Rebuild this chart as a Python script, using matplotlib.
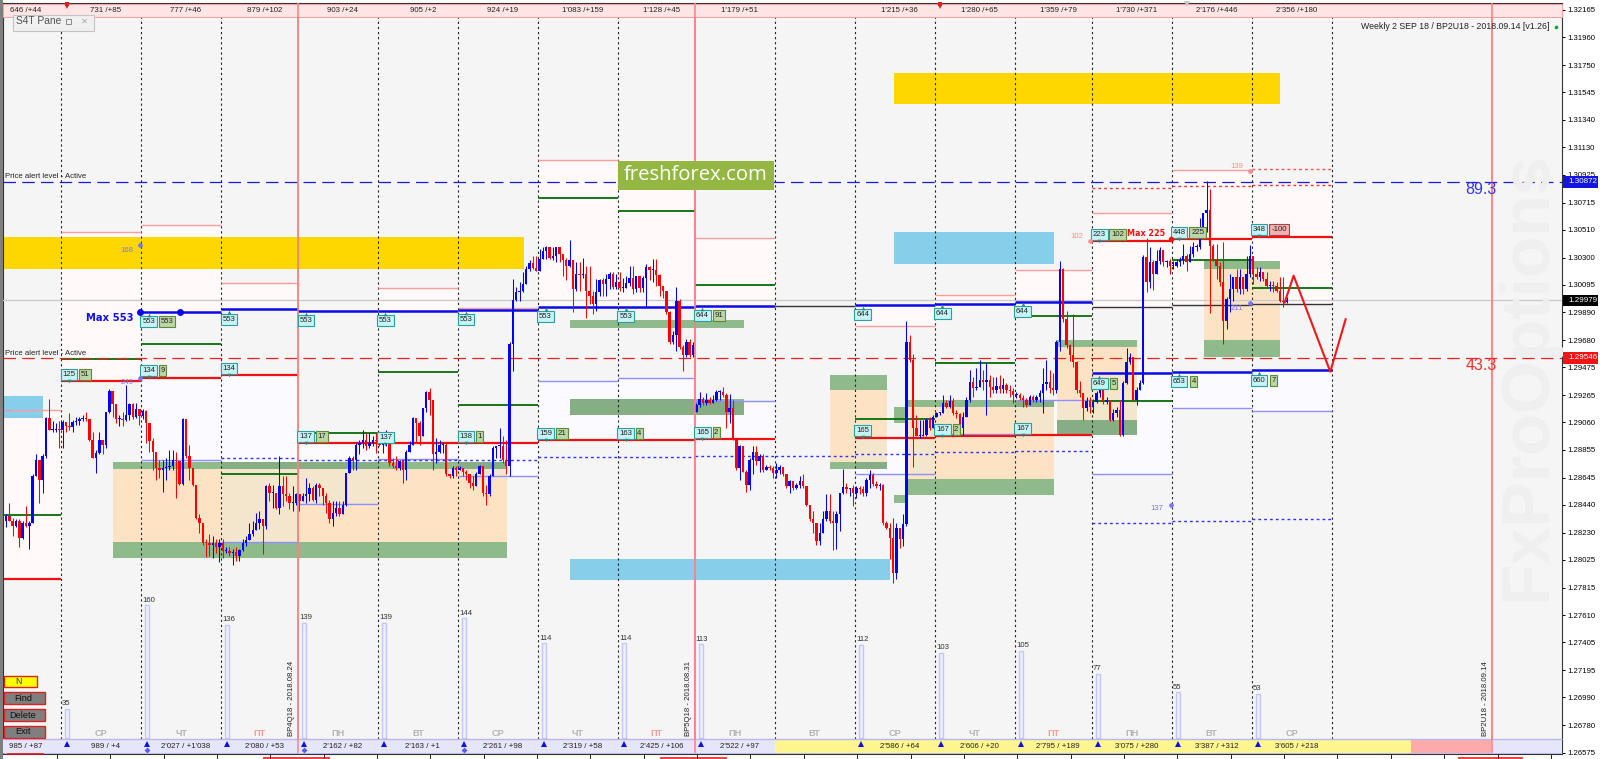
import matplotlib
matplotlib.use("Agg")
import matplotlib.pyplot as plt
from matplotlib.patches import Rectangle
import numpy as np

W, H = 1600, 759
FONT = "Liberation Sans"
plt.rcParams['font.family'] = [FONT, 'DejaVu Sans']

# ---------- candle data: pips above 1.2800, per trading day ----------
BASE = 1.28
c00=[35.5,32,28,32,19,30.5,28,30.5,65.5,78,63,80.5,109,100.5,100.5,101,100.5]
h00=[37,45.5,34,33,33,32,43,32,67,82,73,82,110.5,124,107,105.5,107]
l00=[27,32,20.5,27,12,18,27,10.5,30.5,65.5,45.5,53,79,100.5,99,99,87]
c01=[106,103,102.5,106,107,108.5,109,108.5,93,79,83,92.5,89,114,130,120,108.5,108.5,108,112,120,110,116,111]
h01=[108,105.5,113,108,110.5,110.5,112,114,107,99,85.5,99,93,114,131,128,119,112,114,134,121,120.5,120.5,116]
l01=[87,99,100.5,99,104,104,107,107,92,79,68,82,82,87,113,110.5,105.5,103,103,107,108,108.5,109,104]
c02=[115,105.5,92,84,72,70.5,72,72.5,73.5,78,77,60,108.5,80.5,72,59,34,30,15.5,15,13.5,15.5,12,15]
h02=[116,115.5,105.5,94,84,78,78,79,85,85,84,77,109,108.5,89,72,59,37,22,18,22,20.5,18,18]
l02=[108.5,90.5,84,70.5,63,64,54,63,70.5,70.5,49,59,59,79,63,58,33,23,14,5,5.5,4,8,1]
c03=[9,9,8,8.5,5.5,10,15.5,17.5,22,25,30,33,28,58,53,53,42,58,52,50.5,45.5,45.5,52]
h03=[18,12,12,10.5,12,10.5,18,20.5,30.5,32,38,39,33,59,60.5,59,53,80.5,65.5,65.5,53,58,53]
l03=[4,8,5.5,-1.5,2,2,9,13,20.5,20.5,28,25.5,7,25.5,47,42,40.5,37,43,47,40.5,39,44]
c04=[47,50.5,52,57,48,59,57,50.5,45.5,33,38,42,37,44,68,79,78,89,90.5,93,88,90.5,93,92]
h04=[48,53,64,60.5,58,60.5,60.5,57,53,48,47,47,47,47,68,80.5,80.5,90.5,93,100.5,98,98,95.5,98]
l04=[39,47,45.5,47,47,45.5,50.5,44,38,30.5,28,35.5,35.5,37,43,70.5,70.5,70.5,82,87,85.5,87,88,83]
c05=[89,89,90.5,75.5,73,72,77,70.5,84,89,109,105.5,95.5,117,129,123,82,84,89,89,67,65.5,72,70.5]
h05=[98,95.5,100.5,92,79,80.5,78,77,85,92,110.5,107,107,117,130,132,123,94,93,90.5,90.5,67,73,73]
l05=[88,83,88,73,72,70.5,70.5,60.5,63,84,89,90.5,89,95.5,114,112,70.5,75.5,83,83,65.5,64,64,65.5]
c06=[72,69,67,60.5,58,67,73,53,52,65.5,87,88,88,78,73,165,198,204,205,210,221.5,226,222,220]
h06=[73,72,70.5,67,65.5,69,74,73,59,67,88,88,102,95.5,93,166.5,214,208,211.5,219,224,228,231.5,231.5]
l06=[70.5,65.5,63,57,55.5,62,67,50.5,44,50.5,65.5,79,79,75.5,67,65.5,145,197.5,197.5,204,210,220,221.5,221.5]
c07=[229,235,238,230,231.5,238,233,228,224,228,206.5,218,217,218,205,201.5,195,204,213,210,214,218,208,211.5]
h07=[236.5,238,238.5,238,238,238,238,231.5,230,243,228,226.5,226.5,230,224,224,205,214,214,215,218,219,219,218]
l07=[224,229,229,229,228,226.5,226.5,216.5,213,223,189,205,205,215,185,195,188,190,201.5,201.5,201.5,206.5,206.5,206.5]
c08=[207.5,207.5,211,214.5,206.5,216,207,214.5,223,221,221,217,209,205,189,166.5,171.5,197.5,162.5,156.5,166.5,156.5,164]
h08=[219,215,216.5,224,224,216.5,214.5,216.5,225,224,229,229,218,209,205,190,175,208,199,164,169,169,166.5]
l08=[205,204,207.5,209,203,204,204,204,193,213,211.5,209,201.5,200,188,165,165,160,161.5,144.5,155,155,155]
c09=[119,124,121,123,121,123,129,129,127,114,117,94,72,88,69,59,78,84,77,81,70.5,72.5,72,68]
h09=[120.5,129,125.5,128,125.5,127,130.5,130.5,133,128,127.5,123,94,89,88,70.5,79,88.5,88,82,82,74,74,73]
l09=[114,118,119,119,120,120.5,122.5,123,125.5,102,105.5,93,70.5,63,69,54,55.5,67,74,69,69,70.5,70.5,64]
c10=[70.5,72.5,67,58,62,57,59,62,58,44,33,30.5,17,23,33,39,32,30.5,37,53,57.5,56,57,53]
h10=[75.5,74,72.5,67,63,62,60.5,65.5,67.5,58,44,39,30.5,30.5,39,52,52,39,39,53,71,60.5,57,59]
l10=[64,67,65.5,57,53,55.5,56,57,57,43,32,23,14,14,23,32,30.5,10,10.5,24,52,53,50.5,43.5]
c11=[56.75,56,53,63,66.75,60,58.5,59,30.5,26.75,19.25,-7,26.75,18.5,29.25,166.5,152.75,101.75,95.5,95.5,96.75,108,101.75,110]
h11=[58,58,58,64,70,68,62,60.5,60,31.75,30.5,34,30.5,25.5,36.75,182.75,171.5,157.75,111.75,108,108,109,110.5,111.75]
l11=[49,52,50.5,50.5,56.75,58,56.75,55.5,29,25.5,3,-15,-12,11.75,13,28,151.5,72.5,95.5,94,95.5,96,100.5,101.75]
c12=[113,113,121,118,122.5,113,112.5,101.75,110,123,136.75,131.75,133,138,136.75,138,133,130.5,133.5,131,134.25,130.5,130,126.75]
h12=[114,114,126.75,123,126.75,124.25,115.5,113,114.25,125.5,145.5,140.5,146.75,153,145.5,150.5,141.75,140.5,140.5,141.75,139.25,135.5,134.25,131.75]
l12=[113,111.75,113,116.75,116.75,111.75,109.25,100.5,96.75,110.5,121.75,125.5,130.5,133,130.5,111.75,125.5,128,128,128,128,128,125.5,120.5]
c13=[126.75,124.25,123,119.25,125,123,125,128.5,135,136.75,131.75,130.5,166.5,221.5,184,164,156.5,151.5,130.5,128,116.75,122.5,118]
h13=[129.25,128,126.75,124.25,126.75,126.75,126.75,130.5,146.75,153,145.5,143,168,227.75,222,190,165,188,152,137,128,125,125]
l13=[124.25,123,118,118,119.25,121.75,121.75,121.75,113,130.5,128,126.75,128,160,182,162,152,148,128,125,108,115,113]
c14=[121.75,128,130.5,121.75,123,108,113,115.5,96.75,135.5,151.5,155,123,130.5,135.5,230.25,211.5,226.5,217.75,227.75,236,226.5,227.75,224]
h14=[124,130,132,132,125,123,116,118,123,137,162,158,138,133,138,232,245,238,228,236,238,236,228,229]
l14=[113,121,125,120,120,107,107,110,96,96,135,150,123,119,133,135,204,207,206,220,225,224,223,218]
c15=[224,226.5,228.5,231.5,226.5,232.75,237.75,237.75,249,264,266,239,229,224,211.5,182.75,199,206.5,215.25,206.5,215.25,206.5,217.75,231.5]
h15=[227.75,229,230.25,240.25,232.75,239,241.5,240.25,260.25,264,287.75,281.5,240.25,240.25,226.5,241.5,200.25,217.75,215.25,221.5,221.5,214,231.5,239.75]
l15=[221.5,222.75,224,225.25,220.25,226.5,230.25,235.25,236.5,247.75,249,188.5,227.75,214,209,164.75,176.5,189,197.75,204,202.75,202.75,205.25,215.25]
c16=[217.75,215.25,219.5,214,209,209,208.5,205.25,197.75,196.5,198.5]
h16=[231.5,222.75,222.75,219.5,219,212.75,212.75,211.5,215.25,215.25,200.25]
l16=[210.25,214,212.75,212.75,207.75,205.25,204.5,204,196.5,192.75,196]
FIRST_OPEN = 32
GAP_OPEN = {207: 114}    # bar index -> open after the weekend gap

closes = c00+c01+c02+c03+c04+c05+c06+c07+c08+c09+c10+c11+c12+c13+c14+c15+c16
highs  = h00+h01+h02+h03+h04+h05+h06+h07+h08+h09+h10+h11+h12+h13+h14+h15+h16
lows   = l00+l01+l02+l03+l04+l05+l06+l07+l08+l09+l10+l11+l12+l13+l14+l15+l16
assert len(closes)==len(highs)==len(lows)

# ---------- day sessions (bar index at which each begins) ----------
DAY_EDGES = [0,17,41,65,88,112,136,160,184,207,231,255,279,303,326,350,374,398]
WEEK_BARS = [88,207,446]
WEEKDAYS = ['СР','ЧТ','ПТ','ПН','ВТ','СР','ЧТ','ПТ','ПН','ВТ','СР','ЧТ','ПТ','ПН','ВТ','СР']
TOP_LABELS = ["646 /+44","731 /+85","777 /+46","879 /+102","903 /+24","905 /+2","924 /+19","1'083 /+159",
              "1'128 /+45","1'179 /+51","","1'215 /+36","1'280 /+65","1'359 /+79","1'730 /+371","2'176 /+446","2'356 /+180"]
BOT_LABELS = ["985 / +87","989 / +4","2'027 / +1'038","2'080 / +53","2'162 / +82","2'163 / +1","2'261 / +98","2'319 / +58",
              "2'425 / +106","2'522 / +97","","2'586 / +64","2'606 / +20","2'795 / +189","3'075 / +280","3'387 / +312","3'605 / +218"]
VOLUMES = [None,35,160,136,139,139,144,114,114,113,None,112,103,105,77,55,53]

N = None
# daily level series (first = partial day)
thick_blue =[N,N,1.29892,1.29912,1.29901,1.29901,1.29907,1.29931,1.29931,1.29937,N,1.29944,1.29954,1.29969,1.29432,1.29442,1.29455]
black_lvl  =[N,N,N,N,N,N,N,N,N,N,1.29934,N,N,N,1.29929,1.29942,1.29954]
pink_lvl   =[1.29154,1.30491,1.30549,1.30110,N,1.30072,1.29922,1.31038,N,1.30449,N,1.29788,1.30017,1.30205,1.30637,1.30960,N]
green_lvl  =[1.28364,1.29538,1.29651,1.28674,1.28983,1.29440,1.29192,1.30747,1.30654,1.30095,N,1.29084,1.29505,1.29861,1.29222,1.30285,1.30075]
red_lvl    =[1.27880,1.29372,1.29395,1.29415,1.28903,1.28903,1.28903,1.28928,1.28928,1.28933,N,1.28945,1.28960,1.28966,1.30428,1.30441,1.30458]
thin_blue  =[N,N,1.28778,1.28160,1.28446,1.28785,1.28657,1.29375,1.29395,1.29222,N,1.28672,1.28973,1.29229,1.28672,1.29169,1.29149]
dot_blue   =[N,N,N,1.28790,1.28778,1.28778,1.28778,1.28802,1.28802,1.28810,1.28810,1.28823,1.28836,1.28843,1.28303,1.28321,1.28333]
dot_red    =[N,N,N,N,N,N,N,N,N,N,N,N,N,N,1.30825,1.30840,1.30850]
dot_red2   =[N,N,N,N,N,N,N,N,N,N,N,N,N,N,N,N,1.30968]
pink_top   =[1.29154,1.30491,1.30549,1.30110,N,1.30072,1.29922,1.31038,1.31038,1.30449,N,1.29944,1.30017,1.30205,1.30637,1.30960,1.30850]
pink_bot   =[1.27880,1.29372,1.29892,1.29912,N,1.29901,1.29907,1.29931,1.29931,1.29937,N,1.29788,1.29954,1.29969,1.29929,1.29942,1.29954]
lav_top    =[N,N,1.29395,1.29415,1.28903,1.28903,1.28903,1.29375,1.29395,1.29222,N,1.28945,1.28973,1.29229,1.29432,1.29442,1.29455]
lav_bot    =[N,N,1.28778,1.28160,1.28446,1.28785,1.28657,1.28928,1.28928,1.28933,N,1.28672,1.28960,1.28966,1.28672,1.29169,1.29149]

# zones: (bar_from, bar_to, price_hi, price_lo)
GOLD_ZONES = [(-0.3,155.7,1.30456,1.30216),(266.7,382.6,1.31693,1.31455)]
BLUE_ZONES = [(266.7,314.7,1.30494,1.30255),(-0.3,11.7,1.29260,1.29096),(169.6,265.6,1.28033,1.27872)]
ORANGE_ZONES = [(32.6,150.7,1.28708,1.28160),(247.7,264.7,1.29304,1.28763),(271.1,314.7,1.29174,1.28632),
                (315.7,339.6,1.29628,1.29079),(359.7,382.6,1.30218,1.29681)]
GREEN_ZONES = [(32.6,150.7,1.28763,1.28708),(32.6,150.7,1.28160,1.28042),(169.6,221.7,1.29834,1.29773),
               (169.6,221.7,1.29234,1.29116),(247.7,264.7,1.29420,1.29304),(247.7,264.7,1.28763,1.28708),
               (271.1,314.7,1.29229,1.29174),(266.7,271.1,1.29174,1.29054),(271.1,314.7,1.28632,1.28514),
               (266.7,270.2,1.28514,1.28456),(315.7,339.6,1.29681,1.29628),(315.7,339.6,1.29079,1.28966),
               (359.7,382.6,1.30275,1.30218),(359.7,382.6,1.29681,1.29555)]

PRICE_TICKS = [1.32165,1.31960,1.31750,1.31545,1.31340,1.31130,1.30925,1.30715,1.30510,1.30300,1.30095,1.29890,1.29680,1.29475,
               1.29265,1.29060,1.28855,1.28645,1.28440,1.28230,1.28025,1.27815,1.27610,1.27405,1.27195,1.26990,1.26780,1.26575]
ALERT_BLUE, ALERT_RED, LAST_PRICE = 1.30872, 1.29546, 1.29979
FORECAST_BARS = [383.9,386.6,397.6,402.2]
FORECAST_PRICE = [1.29962,1.30165,1.29442,1.29837]

# ---------- scales ----------
BAR_PX = 3.335
def px_x(b): return 61 + (b-17)*BAR_PX
def bar_of(px): return (px-61)/BAR_PX + 17
def price_of(y): return 1.32240 - y*7.527e-5
def px_y(p): return (1.32240-p)/7.527e-5

fig = plt.figure(figsize=(W/100, H/100), dpi=100, facecolor='white')
L, R, T, B = 3, 1562, 3, 754
ax = fig.add_axes([L/W, (H-B)/H, (R-L)/W, (B-T)/H], facecolor='#f5f5f5')
ax.set_xlim(bar_of(L), bar_of(R))
ax.set_ylim(price_of(B), price_of(T))

span = DAY_EDGES
def day_range(i): return span[i], span[i+1]

for i in range(17):
    a, b = day_range(i)
    if pink_top[i] is not None:
        ax.add_patch(Rectangle((a, pink_bot[i]), b-a, pink_top[i]-pink_bot[i], fc='#fff9f9', ec='none', zorder=1))
    if lav_top[i] is not None:
        ax.add_patch(Rectangle((a, lav_bot[i]), b-a, lav_top[i]-lav_bot[i], fc='#fafaff', ec='none', zorder=1))

def zones(items, color, tint):
    for a, b, hi, lo in items:
        ax.add_patch(Rectangle((a, lo), b-a, hi-lo, fc=color, ec='none', zorder=2))
        if tint is None:
            continue
        # the zone looks greyer where it crosses the lower band of a day
        for i in range(17):
            if lav_top[i] is None:
                continue
            d0, d1 = day_range(i)
            x0, x1 = max(a, d0), min(b, d1)
            y0, y1 = max(lo, lav_bot[i]), min(hi, lav_top[i])
            if x1 > x0 and y1 > y0:
                ax.add_patch(Rectangle((x0, y0), x1-x0, y1-y0, fc=tint, ec='none', zorder=2.2))
zones(GOLD_ZONES, '#ffd700', None)
zones(BLUE_ZONES, '#87ceeb', '#8cc6dc')
zones(ORANGE_ZONES, '#fde3c4', '#f3e6cc')
zones(GREEN_ZONES, '#8fbb8c', '#86ae85')

# gridlines
for e in DAY_EDGES[1:]:
    if e not in WEEK_BARS:
        ax.vlines(e, price_of(739), price_of(17), color='#222222', lw=0.8, linestyles=(0,(2,2.6)), zorder=3)
for e in WEEK_BARS:
    ax.vlines(e, price_of(753), price_of(3), color='#ff8080', lw=1.1, zorder=3)
ax.axhline(LAST_PRICE, color='#c8c8c8', lw=0.9, zorder=3)

def levels(vals, color, lw, ls='-', z=4):
    for i, v in enumerate(vals):
        if v is not None:
            a, b = day_range(i)
            ax.hlines(v, a, b, color=color, lw=lw, linestyles=ls, zorder=z)
levels(pink_lvl, '#ff9c9c', 1.0)
levels(thin_blue, '#8f8fff', 1.0)
levels(dot_blue, '#3030ff', 1.0, (0,(2,2.2)))
levels(dot_red, '#ff3030', 1.0, (0,(2,2.2)))
levels(dot_red2, '#ff5050', 1.0, (0,(2,2.2)))
levels(black_lvl, '#333333', 1.0)
levels(green_lvl, '#107010', 1.35)
levels(red_lvl, '#f01010', 1.6)
levels(thick_blue, '#0a0ae6', 1.8)

ax.hlines(ALERT_BLUE, bar_of(3), bar_of(R), color='#1a1ae0', lw=0.9, linestyles=(0,(10,5)), zorder=4)
ax.hlines(ALERT_RED, bar_of(3), bar_of(R), color='#f02020', lw=0.9, linestyles=(0,(10,5)), zorder=4)

# candles
prev = FIRST_OPEN
xs, opens = [], []
for i, cl in enumerate(closes):
    op = GAP_OPEN.get(i, prev)
    opens.append(op); xs.append(i+0.5); prev = cl
xs = np.array(xs); o = BASE+np.array(opens)/1e4; c = BASE+np.array(closes)/1e4
h = BASE+np.array(highs)/1e4; l = BASE+np.array(lows)/1e4
up = c >= o
cols = np.where(up, '#0000ff', '#ff0000')
ax.vlines(xs, np.minimum(l, np.minimum(o, c)), np.maximum(h, np.maximum(o, c)), colors=cols, lw=0.75, zorder=5)
ax.bar(xs, np.maximum(np.abs(c-o), 0.00008), bottom=np.minimum(o, c), width=0.72, color=cols, lw=0, zorder=6)

ax.plot(FORECAST_BARS, FORECAST_PRICE, color='#f01818', lw=1.5, zorder=7)

ax.set_xticks(np.arange(15.74, 470, 16))
ax.tick_params(axis='x', length=3.5, width=0.7, labelbottom=False, color='#222222', pad=0)
ax.yaxis.tick_right()
ax.set_yticks(PRICE_TICKS)
ax.set_yticklabels([f"{t:.5f}" for t in PRICE_TICKS], fontsize=5.6, color='black', family=FONT)
ax.tick_params(axis='y', length=2.5, width=0.7, pad=1.2)
for s in ['left','top','right','bottom']:
    ax.spines[s].set_color('#333333'); ax.spines[s].set_linewidth(0.8)

# ---------- daily volume panel ----------
vax = fig.add_axes(ax.get_position(), facecolor='none')
vax.set_xlim(ax.get_xlim())
VS = 0.83
vax.set_ylim(-(B-738)/VS, (738-T)/VS)
vax.axis('off')
for i, v in enumerate(VOLUMES):
    if v is None: continue
    e = DAY_EDGES[i]
    vax.bar(e+1.85, v, width=1.3, fc='#eeeeff', ec='#c6c6ff', lw=1.0, zorder=2)
    vax.text(e+0.35, v+2, str(v), fontsize=5.6, color='#333333', ha='left', va='bottom', zorder=3)

# ---------- overlay: chart furniture and labels, in pixels ----------
pax = fig.add_axes([0,0,1,1], facecolor='none')
pax.set_xlim(0, W); pax.set_ylim(H, 0); pax.axis('off')
def rect(x0, y0, x1, y1, fc, ec='none', lw=0, z=5):
    pax.add_patch(Rectangle((x0, y0), x1-x0, y1-y0, fc=fc, ec=ec, lw=lw, zorder=z))

rect(0, 0, 3, 759, '#7f7f7f', z=9)
pax.text(1528, 376, 'FxProOptions', rotation=90, fontsize=49, fontweight='bold', color='#efefef',
         ha='center', va='center', zorder=1)

# top strip
rect(3, 4, R, 16.5, '#ffe6e4', '#ff9c9c', 0.7, z=5)
# bottom strip
rect(3, 739, px_x(231), 753, '#e6e6fa', z=5)
rect(px_x(231), 739, 1410.6, 753, '#fff68f', z=5)
rect(1410.6, 739, 1491, 753, '#ffaaaa', z=5)
rect(1491, 739, R, 753, '#e6e6fa', z=5)
pax.hlines(739.3, 3, R, color='#b8b8ee', lw=1, zorder=6)
pax.hlines(752.6, 3, R, color='#b8b8ee', lw=0.7, zorder=6)
for e in WEEK_BARS:
    pax.vlines(px_x(e), 4, 753, color='#ff8080', lw=1.1, zorder=6)
for x0, x1, y in [(7,44,754.2),(263,330,758),(660,727,758),(1458,1523,758)]:
    pax.hlines(y, x0, x1, color='#e01010', lw=1.1, zorder=7)

for i in range(17):
    a, b = day_range(i)
    cx = px_x((a+b)/2) + (5 if i else -7)
    if TOP_LABELS[i]:
        pax.text(cx, 10.3, TOP_LABELS[i], fontsize=5.7, ha='center', va='center', color='#222222', zorder=8)
    if BOT_LABELS[i]:
        pax.text(cx, 746.5, BOT_LABELS[i], fontsize=5.7, ha='center', va='center', color='#222222', zorder=8)
    if i:
        name = WEEKDAYS[i-1]
        pax.text(px_x((a+b)/2), 734, name, fontsize=6.6, fontweight='bold', ha='center', va='center',
                 color='#ff9a9a' if name == 'ПТ' else '#b4b4b4', zorder=8)
    if i and VOLUMES[i] is not None:
        bx = px_x(a)+6.2
        pax.plot([bx], [743.5], marker='^', ms=4.2, color='#1010e0', mew=0, zorder=8)
        pax.plot([bx+0], [745.8], marker='s', ms=1.6, color='#1010e0', mew=0, zorder=8)
        if i in (2, 4, 6):
            pax.plot([bx], [750], marker='D', ms=3, color='#5a5af0', mew=0, zorder=8)

# freshforex badge
rect(618, 161.3, 774, 190, '#94b643', z=8)
pax.text(696, 175.5, 'freshforex.com', fontsize=14.6, color='white', family='Open Sans', ha='center', va='center', zorder=9)

# pane box
rect(12.8, 15, 93.6, 30.7, '#f0f0f0', '#c4c4c4', 0.8, z=7)
pax.text(16.5, 21.5, 'S4T Pane', fontsize=7.4, color='#555555', va='center', ha='left', zorder=8)
rect(65.5, 18.5, 71, 23.5, 'none', '#8a8a8a', 0.7, z=8)
pax.text(84, 21, '✕', fontsize=6, color='#a8a8a8', family='DejaVu Sans', fontweight='bold', ha='center', va='center', zorder=8)
pax.plot([66.6, 940], [6, 6], ls='', marker='v', ms=4.5, color='#d82020', mew=0, zorder=8)
pax.plot([66.6, 940], [4, 4], ls='', marker='s', ms=2.4, color='#d82020', mew=0, zorder=8)
pax.plot([1187], [3.5], ls='', marker='v', ms=4, color='#c8c8c8', mew=0, zorder=8)

# title
pax.text(1549.7, 26.7, 'Weekly 2 SEP 18 / BP2U18 - 2018.09.14 [v1.26]', fontsize=6.3, color='#222222', ha='right', va='center', zorder=8)
pax.plot([1556], [26.7], ls='', marker='o', ms=2.6, color='#10a030', mew=0, zorder=8)

# alert captions, fib numbers
pax.text(5.4, 176.7, 'Price alert level - Active', fontsize=5.6, color='#222222', va='center', zorder=8)
pax.text(5.4, 353.3, 'Price alert level - Active', fontsize=5.6, color='#222222', va='center', zorder=8)
pax.text(1481, 189, '89.3', fontsize=11.5, color='#3535e8', ha='center', va='center', zorder=8)
pax.text(1481, 365.7, '43.3', fontsize=11.5, color='#f03030', ha='center', va='center', zorder=8)
pax.text(110, 318, 'Max 553', fontsize=7.2, fontweight='bold', color='#1010f0', ha='center', va='center', family='DejaVu Sans', zorder=8)
pax.text(1146, 234, 'Max 225', fontsize=5.8, fontweight='bold', color='#f01010', ha='center', va='center', family='DejaVu Sans', zorder=8)

# price tag boxes
for p, fc in [(ALERT_BLUE, '#1414e0'), (LAST_PRICE, '#000000'), (ALERT_RED, '#f01414')]:
    y = px_y(p)
    rect(1563, y-5.8, 1598, y+5.8, fc, z=8)
    pax.text(1568, y, f"{p:.5f}", fontsize=5.8, color='white', va='center', ha='left', zorder=9)

# buttons
rect(3.8, 675.7, 36.5, 687.3, '#ffff00', '#e02020', 1.0, z=8)
pax.text(18.5, 681.7, 'N', fontsize=6.2, color='#333333', ha='center', va='center', zorder=9)
for y0, lab in [(692,'Find'),(709,'Delete'),(725.7,'Exit')]:
    rect(3.8, y0, 44.6, y0+12, '#7f7f7f', '#e02020', 1.0, z=8)
    pax.text(23, y0+6.2, lab, fontsize=6.6, color='#111111', ha='center', va='center', zorder=9)

# rotated expiry captions
for x, t in [(291.4,'BP4Q18 - 2018.08.24'),(689,'BP5Q18 - 2018.08.31'),(1485.6,'BP2U18 - 2018.09.14')]:
    pax.text(x, 736, t, rotation=90, fontsize=5.6, color='#222222', ha='center', va='bottom', zorder=8)

# level tags
TAGS = [
 (69,374,'125','t'),(84.9,374,'51','g'),(148.7,321.3,'553','t'),(167,321.3,'553','g'),(148.7,370.7,'134','t'),(162.6,370.7,'9','g'),
 (228.9,368,'134','t'),(228.9,319,'553','t'),(306,320.3,'553','t'),(385.4,320.3,'553','t'),(465.8,319.7,'553','t'),
 (305.6,436.7,'137','t'),(321.5,436.7,'17','g'),(385.4,437.3,'137','t'),(465.8,436.7,'138','t'),(479.4,436.7,'1','g'),
 (545.6,316,'553','t'),(625.7,316,'553','t'),(702.4,315.3,'644','t'),(718.6,315.3,'91','g'),(862.7,314.7,'644','t'),(942.4,313,'644','t'),(1022.6,311,'644','t'),
 (545.6,433.3,'159','t'),(561.8,433.3,'21','g'),(625.7,433.3,'163','t'),(639.5,433.3,'4','g'),(702.4,432.3,'165','t'),(716.3,432.3,'2','g'),
 (862.7,430.7,'165','t'),(942.4,429,'167','t'),(956.3,429,'2','g'),(1022.6,428.3,'167','t'),
 (1099.3,234,'223','t'),(1117.5,234,'102','g'),(1179,232,'448','t'),(1197.7,232,'225','g'),(1259,229.7,'348','t'),(1279.4,229.7,'-100','r'),
 (1099.3,383.3,'649','t'),(1113.4,383.3,'5','g'),(1179,381.7,'653','t'),(1193.6,381.7,'4','g'),(1259,380,'660','t'),(1273.5,380,'7','g'),
]
STY = {'t':('#c6f3f3','#2c9f9f'),'g':('#bcd6a6','#5c8a36'),'r':('#f4b0b0','#a04848')}
POINTER_UP = {'553','644','649','653','660'}   # these tags hang below their level line
for x, y, s, k in TAGS:
    w = {1:7.5,2:12,3:16.5,4:20}[len(s)]
    fc, ec = STY[k]
    rect(x-w/2, y-5.5, x+w/2, y+5.5, fc, ec, 0.8, z=8)
    pax.text(x, y+0.2, s, fontsize=5.6, color='#222222', ha='center', va='center', zorder=9)
    if k == 't':
        if s in POINTER_UP:
            pax.plot([x], [y-6.6], ls='', marker='^', ms=2.6, color='#1f8f8f', mew=0, zorder=9)
        else:
            pax.plot([x], [y+6.6], ls='', marker='v', ms=2.6, color='#1f8f8f', mew=0, zorder=9)

# anchor dots and small tags
pax.plot([140.3,180.2], [312.3,312.3], ls='', marker='o', ms=5, color='#0a0ae6', mew=0, zorder=8)
pax.plot([1171], [239.3], ls='', marker='o', ms=4, color='#f01010', mew=0, zorder=8)
SMALL = [(126.8,250,'168',140.3,245.3,'#7777ff'),(126.8,382.7,'245',140.3,377.7,'#7777ff'),(1076.5,236.7,'102',1090.3,240.7,'#ff8f8f'),
         (1236.7,166.3,'139',1250.4,170.7,'#ff8f8f'),(1236.7,308,'211',1250.4,303.3,'#7777ff'),(1156.8,509,'137',1170.9,504.7,'#7777ff')]
for tx, ty, s, dx, dy, col in SMALL:
    pax.text(tx, ty, s, fontsize=5.6, color=col, ha='center', va='center', zorder=8)
    pax.plot([dx], [dy], ls='', marker='o', ms=3.4, color=col, mew=0, zorder=8)

fig.savefig('out.png', dpi=100, facecolor='white')
